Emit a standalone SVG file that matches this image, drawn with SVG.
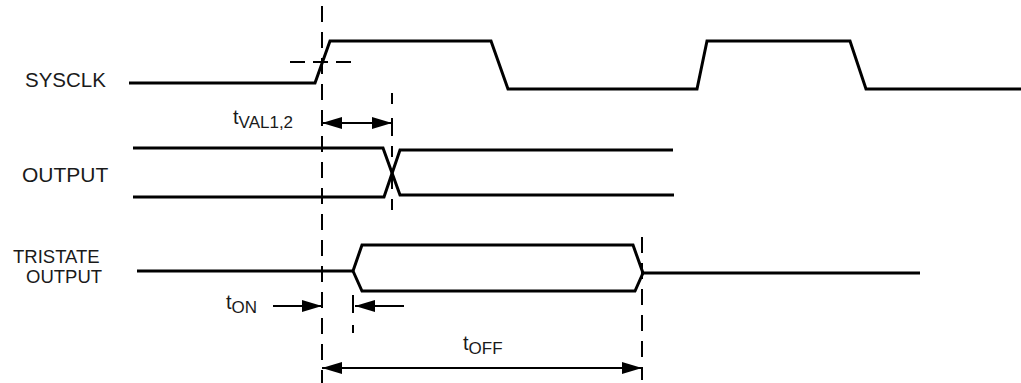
<svg xmlns="http://www.w3.org/2000/svg" width="1021" height="383" viewBox="0 0 1021 383">
<style>
.sig{fill:none;stroke:#000;stroke-width:3;stroke-linejoin:miter}
.dash{fill:none;stroke:#000;stroke-width:2;stroke-dasharray:16 10}
.arr{fill:none;stroke:#000;stroke-width:2}
.lbl{font-family:"Liberation Sans",Arial,sans-serif;fill:#1a1a1a}
</style>
<defs>
<marker id="ah" markerUnits="userSpaceOnUse" markerWidth="22" markerHeight="14" refX="20" refY="6" orient="auto-start-reverse">
<path d="M0,0 L20,6 L0,12 Z" fill="#000"/>
</marker>
</defs>
<g id="labels" class="lbl">
<text x="25" y="87" font-size="20.5">SYSCLK</text>
<text x="22" y="182" font-size="21">OUTPUT</text>
<text x="13" y="263" font-size="18.5">TRISTATE</text>
<text x="26" y="283" font-size="18.5">OUTPUT</text>
<text x="233" y="124" font-size="20">t<tspan font-size="17" dy="4">VAL1,2</tspan></text>
<text x="226" y="309" font-size="20">t<tspan font-size="17" dy="4">ON</tspan></text>
<text x="463" y="350" font-size="20">t<tspan font-size="17" dy="4">OFF</tspan></text>
</g>
<g id="sysclk">
<path class="sig" d="M129,83 L315,83 L330,41 L491,41 L508,89 L697,89 L707,41 L850,41 L866,89 L1021,89"/>
</g>
<g id="output">
<path class="sig" d="M133,148 L383,148 L400,195 L674,195"/>
<path class="sig" d="M133,197 L384,197 L400,150 L673,150"/>
</g>
<g id="tristate">
<path class="sig" d="M137,271 L353,271"/>
<path class="sig" d="M353,271 L362,245 L633,245 L643,273"/>
<path class="sig" d="M353,271 L362,291 L635,291 L643,273"/>
<path class="sig" d="M643,273 L920,273"/>
</g>
<g id="connectors">
<line class="dash" x1="322" y1="6" x2="322" y2="383"/>
<line class="dash" x1="290" y1="62" x2="353" y2="62" style="stroke-dasharray:15 8"/>
<line class="dash" x1="392" y1="93" x2="392" y2="222" style="stroke-dasharray:11 14 18 10"/>
<line class="dash" x1="642" y1="237" x2="642" y2="380"/>
<line class="dash" x1="353" y1="295" x2="353" y2="333" style="stroke-dasharray:18 12"/>
<line class="arr" x1="322" y1="123" x2="392" y2="123" marker-start="url(#ah)" marker-end="url(#ah)"/>
<line class="arr" x1="273" y1="306" x2="322" y2="306" marker-end="url(#ah)"/>
<line class="arr" x1="404" y1="306" x2="355" y2="306" marker-end="url(#ah)"/>
<line class="arr" x1="322" y1="368" x2="642" y2="368" marker-start="url(#ah)" marker-end="url(#ah)"/>
</g>
</svg>
